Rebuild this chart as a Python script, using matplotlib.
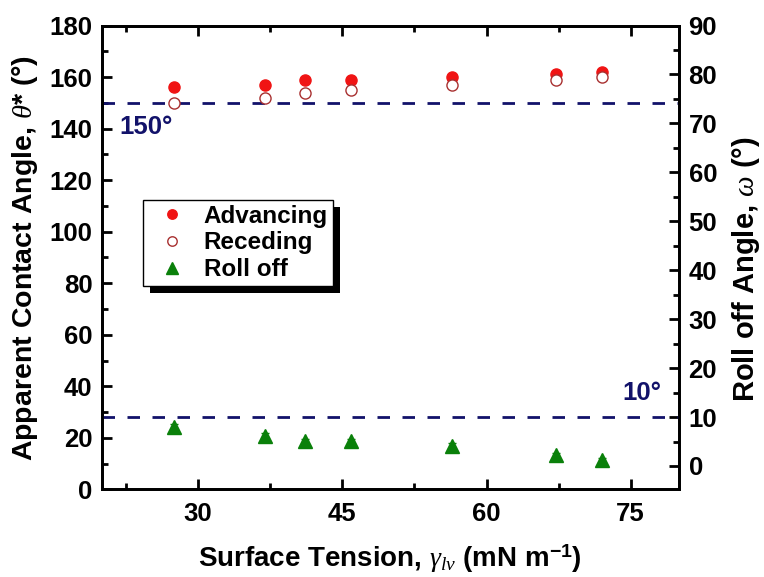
import numpy as np
import matplotlib

matplotlib.use('Agg')
import matplotlib.pyplot as plt
from matplotlib.patches import Rectangle
from matplotlib.ticker import MultipleLocator

plt.rcParams['font.family'] = ['Liberation Sans', 'DejaVu Sans']
plt.rcParams['mathtext.fontset'] = 'custom'
plt.rcParams['mathtext.rm'] = 'Liberation Sans:bold'
plt.rcParams['mathtext.bf'] = 'Liberation Sans:bold'
plt.rcParams['mathtext.it'] = 'Liberation Serif:italic'

# surface tension of probe liquids (mN/m)
surface_tension = [27.5, 37.0, 41.1, 45.9, 56.4, 67.2, 72.0]
advancing = [156, 157, 159, 159, 160, 161, 162]
receding = [150, 152, 154, 155, 157, 159, 160]
roll_off = [8.0, 6.2, 5.1, 5.1, 4.1, 2.2, 1.2]
adv_err = [1.0, 1.0, 1.0, 1.0, 1.0, 1.0, 1.0]
rec_err = [1.0, 1.0, 1.0, 1.0, 1.0, 1.0, 1.0]
roll_err = [0.5, 0.5, 0.5, 0.5, 0.5, 0.5, 0.5]
theta_limit = 150   # superhydrophobic threshold, left axis
roll_limit = 10     # roll-off threshold, right axis

NAVY = '#12126a'
RED = '#f01414'
DARKRED = '#a83030'
GREEN = '#0a800a'

TICK_FS = 18.5
LABEL_FS = 20.5

fig = plt.figure(figsize=(7.64, 5.77), dpi=100)
ax = fig.add_axes([0.1335, 0.1517, 0.755, 0.8041])
ax2 = ax.twinx()

h_adv = ax.errorbar(surface_tension, advancing, yerr=adv_err, fmt='o', color=RED,
                    ms=8, capsize=3, elinewidth=1, zorder=3)
h_rec = ax.errorbar(surface_tension, receding, yerr=rec_err, fmt='o', mfc='white',
                    mec=DARKRED, color=DARKRED, mew=1, ms=8, capsize=3,
                    elinewidth=1, zorder=3)
h_roll = ax2.errorbar(surface_tension, roll_off, yerr=roll_err, fmt='^', color=GREEN,
                      ms=10, capsize=3, elinewidth=1, zorder=3)

ax.axhline(theta_limit, color=NAVY, lw=2, ls=(0, (4.5, 4.5)), zorder=2)
ax2.axhline(roll_limit, color=NAVY, lw=2, ls=(0, (4.5, 4.5)), zorder=2)
ax.text(21.8, 140.5, '150\u00b0', color=NAVY, fontsize=18.5, fontweight='bold',
        ha='left', va='center')
ax2.text(78.2, 14.9, '10\u00b0', color=NAVY, fontsize=18.5, fontweight='bold',
         ha='right', va='center')

ax.set_xlim(20, 80)
ax.set_ylim(0, 180)
ax2.set_ylim(-4.8, 90)
ax.xaxis.set_major_locator(MultipleLocator(15))
ax.xaxis.set_minor_locator(MultipleLocator(7.5))
ax.yaxis.set_major_locator(MultipleLocator(20))
ax.yaxis.set_minor_locator(MultipleLocator(10))
ax2.yaxis.set_major_locator(MultipleLocator(10))
ax2.yaxis.set_minor_locator(MultipleLocator(5))

for a in (ax, ax2):
    for sp in a.spines.values():
        sp.set_linewidth(2)
ax.tick_params(axis='both', which='major', direction='in', length=7, width=2,
               labelsize=TICK_FS, top=True)
ax.tick_params(axis='x', which='major', pad=9)
ax.tick_params(axis='y', which='major', pad=7)
ax.tick_params(axis='both', which='minor', direction='in', length=4, width=2, top=True)
ax.tick_params(axis='y', which='both', right=False)
ax2.tick_params(axis='y', which='major', direction='in', length=7, width=2,
                labelsize=TICK_FS, pad=7)
ax2.tick_params(axis='y', which='minor', direction='in', length=4, width=2)
for lab in ax.get_xticklabels() + ax.get_yticklabels() + ax2.get_yticklabels():
    lab.set_fontweight('bold')

ax.set_xlabel(r'Surface Tension, $\gamma_{lv}$ (mN m$^{\mathbf{-1}}$)',
              fontsize=20, fontweight='bold', labelpad=12)
ax.set_ylabel(r'Apparent Contact Angle, $\theta$* ($\degree$)',
              fontsize=LABEL_FS, fontweight='bold', labelpad=7)
ax2.set_ylabel(r'Roll off Angle, $\omega$ ($\degree$)',
               fontsize=21, fontweight='bold', rotation=90)
ax2.yaxis.set_label_coords(1.088, 0.475)

leg = ax2.legend([h_adv[0], h_rec[0], h_roll[0]], ['Advancing', 'Receding', 'Roll off'],
                 loc='upper left', bbox_to_anchor=(0.071, 0.624), borderaxespad=0,
                 prop={'weight': 'bold', 'size': 17.5}, frameon=True,
                 fancybox=False, edgecolor='black', framealpha=1,
                 handletextpad=0.3, labelspacing=0.15, borderpad=0.2,
                 handlelength=2.0, markerscale=0.85)
leg.get_frame().set_linewidth(1)
leg.set_zorder(5)

# hard black drop shadow behind the legend box
fig.canvas.draw()
inv = ax2.transAxes.inverted()
bb = leg.get_window_extent().transformed(inv)
p0 = inv.transform((0, 0))
p1 = inv.transform((7, 7))
dx, dy = p1[0] - p0[0], p1[1] - p0[1]
ax2.add_patch(Rectangle((bb.x0 + dx, bb.y0 - dy), bb.width, bb.height,
                        transform=ax2.transAxes, facecolor='black', edgecolor='none',
                        zorder=4.5, clip_on=False))

fig.savefig('out.png', dpi=100)
